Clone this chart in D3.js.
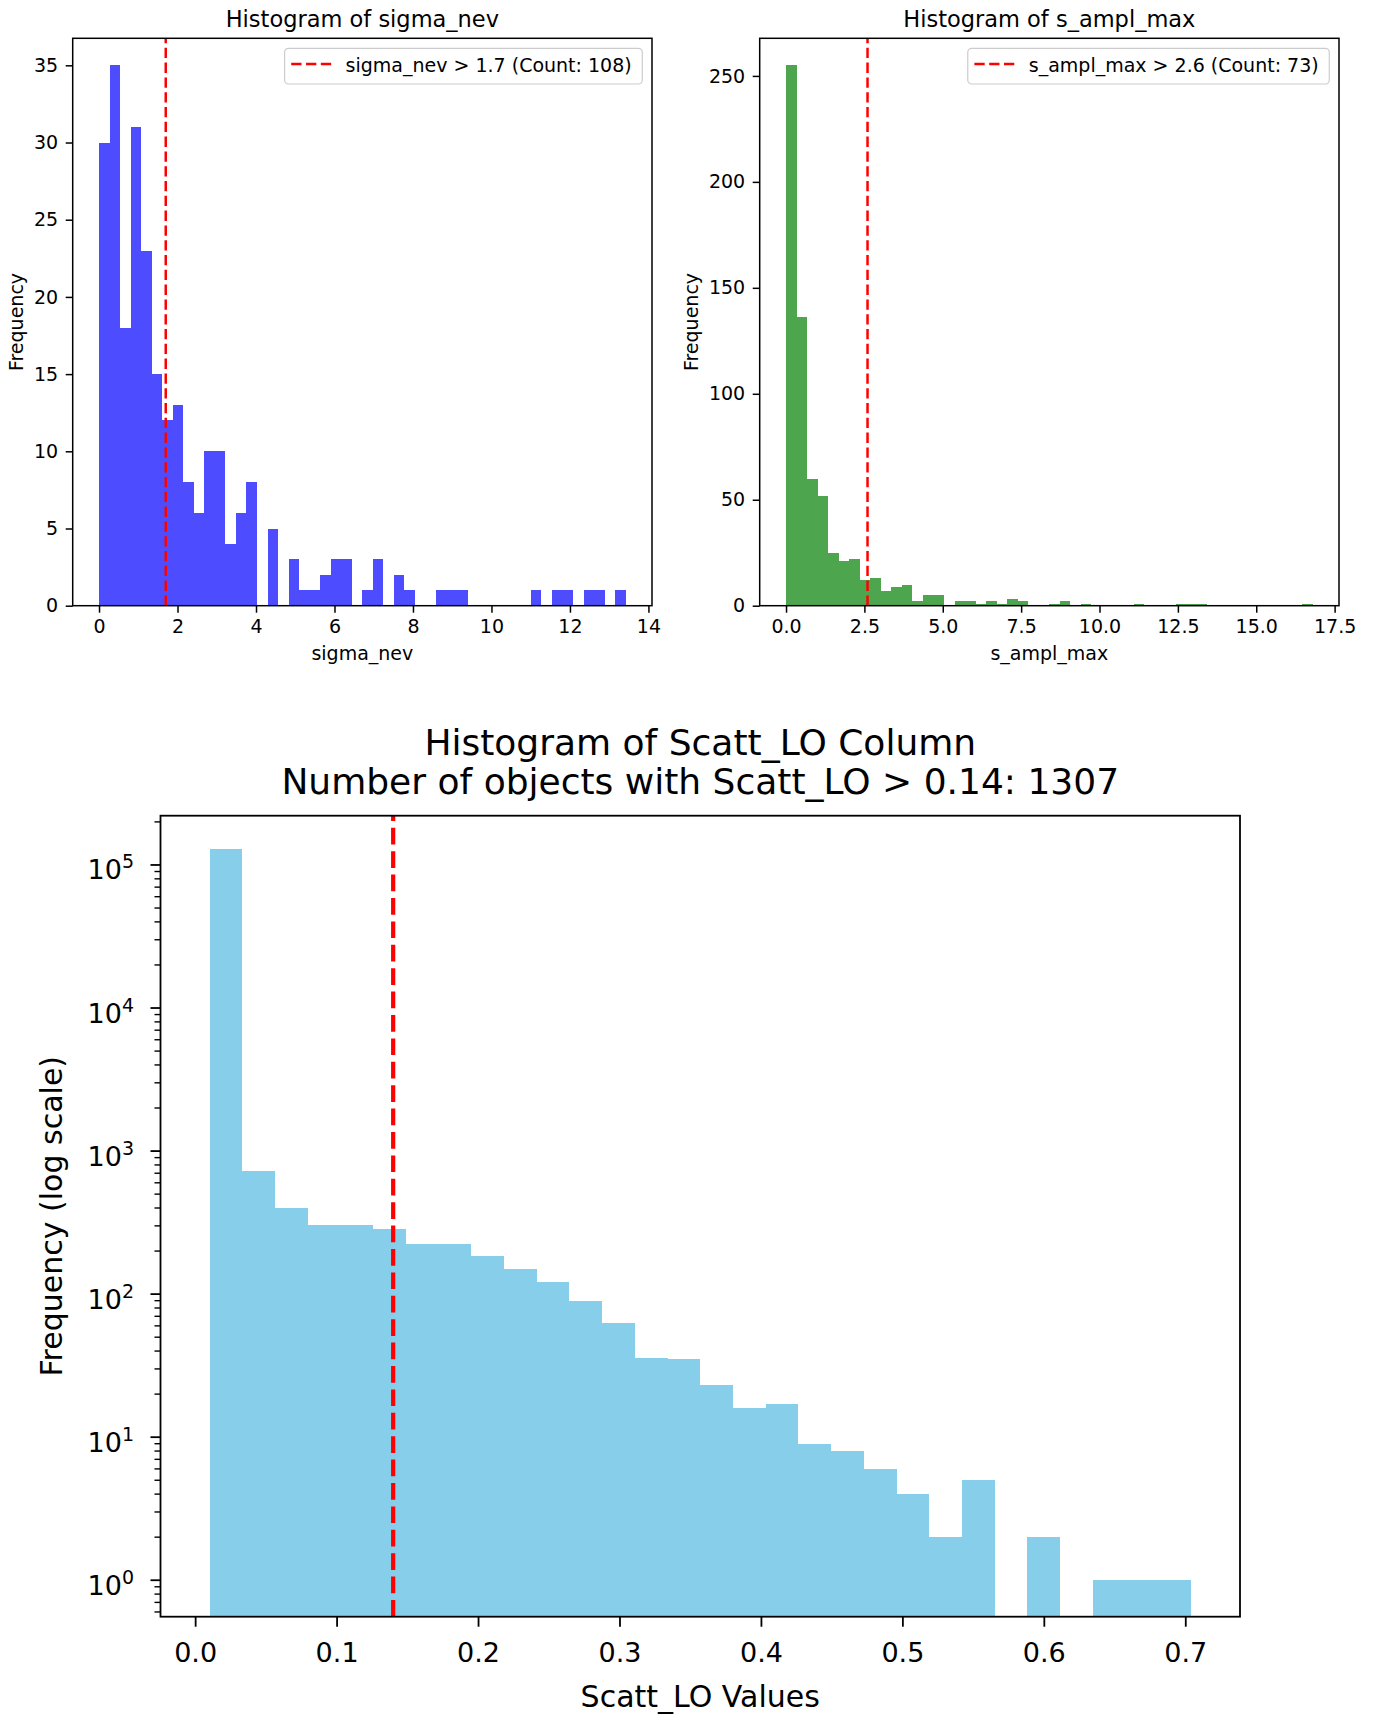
<!DOCTYPE html>
<html>
<head>
<meta charset="utf-8">
<script src="https://cdn.jsdelivr.net/npm/d3@7/dist/d3.min.js"></script>
<style>
body { margin: 0; background: #fff; }
text { font-family: "DejaVu Sans", sans-serif; fill: #000; }
</style>
</head>
<body>
<div id="chart"></div>
<script>
// sigma_nev histogram (50 bins)
var sigmaExtent = [0, 13.42];
var sigmaCounts = [30, 35, 18, 31, 23, 15, 12, 13, 8, 6,
    10, 10, 4, 6, 8, 0, 5, 0, 3, 1,
    1, 2, 3, 3, 0, 1, 3, 0, 2, 1,
    0, 0, 1, 1, 1, 0, 0, 0, 0, 0,
    0, 1, 0, 1, 1, 0, 1, 1, 0, 1];
var sigmaCut = 1.7;
var sigmaXTicks = [0, 2, 4, 6, 8, 10, 12, 14];
var sigmaYTicks = [0, 5, 10, 15, 20, 25, 30, 35];

// s_ampl_max histogram (50 bins)
var amplExtent = [0, 16.8];
var amplCounts = [255, 136, 60, 52, 25, 21, 22, 12, 13, 7,
    9, 10, 2, 5, 5, 0, 2, 2, 1, 2,
    1, 3, 2, 0, 0, 1, 2, 0, 1, 0,
    0, 0, 0, 1, 0, 0, 0, 1, 1, 1,
    0, 0, 0, 0, 0, 0, 0, 0, 0, 1];
var amplCut = 2.6;
var amplXTicks = [0, 2.5, 5, 7.5, 10, 12.5, 15, 17.5];
var amplYTicks = [0, 50, 100, 150, 200, 250];

// Scatt_LO histogram (30 bins, log y)
var scattExtent = [0.0102, 0.704];
var scattCounts = [130000, 730, 400, 305, 305, 284, 223, 223, 186, 151,
    122, 89, 63, 36, 35, 23, 16, 17, 9, 8,
    6, 4, 2, 5, 0, 2, 0, 1, 1, 1];
var scattCut = 0.14;
var scattCutCount = 1307;
var scattXTicks = [0, 0.1, 0.2, 0.3, 0.4, 0.5, 0.6, 0.7];
var scattYExp = [0, 1, 2, 3, 4, 5];
var scattYLimits = [0.556, 221000];

var svgWidth = 1374;
var svgHeight = 1715;

var svg = d3.select("#chart")
    .append("svg")
    .attr("width", svgWidth)
    .attr("height", svgHeight);

function makeBins(extent, counts) {
    var w = (extent[1] - extent[0]) / counts.length;
    return counts.map(function(c, i) {
        return {x0: extent[0] + i * w, x1: extent[0] + (i + 1) * w, count: c};
    });
}

function styleAxis(a, size, width) {
    a.select(".domain").remove();
    a.attr("font-size", size).attr("font-family", "DejaVu Sans");
    a.selectAll("line").attr("stroke", "#000").attr("stroke-width", width);
    a.selectAll("text").attr("fill", "#000");
}

// small linear histograms on top
function smallHist(p) {
    var bins = makeBins(p.extent, p.counts);
    var pad = (p.extent[1] - p.extent[0]) * 0.05;
    var x = d3.scaleLinear()
        .domain([p.extent[0] - pad, p.extent[1] + pad])
        .range([p.left, p.right]);
    var y = d3.scaleLinear()
        .domain([0, d3.max(p.counts) * 1.05])
        .range([p.bottom, p.top]);

    var g = svg.append("g");

    g.selectAll("rect.bar")
        .data(bins.filter(d => d.count > 0))
        .enter()
        .append("rect")
        .attr("class", "bar")
        .attr("x", d => x(d.x0))
        .attr("width", d => x(d.x1) - x(d.x0))
        .attr("y", d => y(d.count))
        .attr("height", d => y(0) - y(d.count))
        .attr("fill", p.color)
        .attr("shape-rendering", "crispEdges");

    // cutoff line
    g.append("line")
        .attr("x1", x(p.cut)).attr("x2", x(p.cut))
        .attr("y1", p.bottom).attr("y2", p.top)
        .attr("stroke", "red")
        .attr("stroke-width", 2.5)
        .attr("stroke-dasharray", "10.3,4.5");

    // frame
    g.append("rect")
        .attr("x", p.left).attr("y", p.top)
        .attr("width", p.right - p.left).attr("height", p.bottom - p.top)
        .attr("fill", "none").attr("stroke", "#000").attr("stroke-width", 1.5);

    g.append("g")
        .attr("transform", `translate(0, ${p.bottom})`)
        .call(d3.axisBottom(x).tickValues(p.xTicks).tickSize(7).tickPadding(6.5).tickFormat(p.xFmt))
        .call(a => styleAxis(a, 19, 1.5));
    g.append("g")
        .attr("transform", `translate(${p.left}, 0)`)
        .call(d3.axisLeft(y).tickValues(p.yTicks).tickSize(7).tickPadding(7.5).tickFormat(d3.format("d")))
        .call(a => styleAxis(a, 19, 1.5));

    // titles and labels
    var cx = (p.left + p.right) / 2;
    g.append("text")
        .attr("x", cx).attr("y", 27)
        .attr("text-anchor", "middle")
        .attr("font-size", 22.5)
        .text(p.title);
    g.append("text")
        .attr("x", cx).attr("y", 660)
        .attr("text-anchor", "middle")
        .attr("font-size", 19)
        .text(p.xLabel);
    g.append("text")
        .attr("transform", `translate(${p.yLabelX}, ${(p.top + p.bottom) / 2}) rotate(-90)`)
        .attr("text-anchor", "middle")
        .attr("font-size", 19)
        .text("Frequency");

    // legend
    var leg = g.append("g");
    var box = leg.append("rect");
    var lt = leg.append("text")
        .attr("font-size", 19)
        .text(p.legend);
    var tw = lt.node().getComputedTextLength();
    var bw = 61 + tw + 10.6;
    var bx = p.right - 9.7 - bw;
    var by = p.top + 10;
    box.attr("x", bx).attr("y", by)
        .attr("width", bw).attr("height", 35.7)
        .attr("rx", 4).attr("ry", 4)
        .attr("fill", "#fff").attr("fill-opacity", 0.8)
        .attr("stroke", "#cccccc").attr("stroke-width", 1.2);
    leg.append("line")
        .attr("x1", bx + 6.6).attr("x2", bx + 46.6)
        .attr("y1", by + 15.7).attr("y2", by + 15.7)
        .attr("stroke", "red").attr("stroke-width", 2.5)
        .attr("stroke-dasharray", "10.3,4.5");
    lt.attr("x", bx + 61).attr("y", by + 23.4);
}

smallHist({
    extent: sigmaExtent, counts: sigmaCounts, cut: sigmaCut,
    xTicks: sigmaXTicks, yTicks: sigmaYTicks, xFmt: d3.format("d"),
    left: 72.7, right: 652, top: 38.3, bottom: 605.7,
    color: "#4d4dff", yLabelX: 22.5,
    title: "Histogram of sigma_nev", xLabel: "sigma_nev",
    legend: `sigma_nev > ${sigmaCut} (Count: 108)`
});

smallHist({
    extent: amplExtent, counts: amplCounts, cut: amplCut,
    xTicks: amplXTicks, yTicks: amplYTicks, xFmt: d3.format(".1f"),
    left: 759.7, right: 1339, top: 38.3, bottom: 605.7,
    color: "#4da64d", yLabelX: 697.5,
    title: "Histogram of s_ampl_max", xLabel: "s_ampl_max",
    legend: `s_ampl_max > ${amplCut} (Count: 73)`
});

// big log histogram
var bL = 160.5, bR = 1240, bT = 815.7, bB = 1616.7;
var scattBins = makeBins(scattExtent, scattCounts);
var sPad = (scattExtent[1] - scattExtent[0]) * 0.05;
var xS = d3.scaleLinear()
    .domain([scattExtent[0] - sPad, scattExtent[1] + sPad])
    .range([bL, bR]);
var yS = d3.scaleLog()
    .domain(scattYLimits)
    .range([bB, bT]);

var bg = svg.append("g");
bg.selectAll("rect.bar")
    .data(scattBins.filter(d => d.count > 0))
    .enter()
    .append("rect")
    .attr("class", "bar")
    .attr("x", d => xS(d.x0))
    .attr("width", d => xS(d.x1) - xS(d.x0))
    .attr("y", d => yS(d.count))
    .attr("height", d => bB - yS(d.count))
    .attr("fill", "#87ceeb")
    .attr("shape-rendering", "crispEdges");

bg.append("line")
    .attr("x1", xS(scattCut)).attr("x2", xS(scattCut))
    .attr("y1", bB).attr("y2", bT)
    .attr("stroke", "red")
    .attr("stroke-width", 4.2)
    .attr("stroke-dasharray", "16.7,6.7");

bg.append("rect")
    .attr("x", bL).attr("y", bT)
    .attr("width", bR - bL).attr("height", bB - bT)
    .attr("fill", "none").attr("stroke", "#000").attr("stroke-width", 1.8);

bg.append("g")
    .attr("transform", `translate(0, ${bB})`)
    .call(d3.axisBottom(xS).tickValues(scattXTicks).tickSize(10).tickPadding(16).tickFormat(d3.format(".1f")))
    .call(a => styleAxis(a, 27, 1.8));

// log y ticks: majors with 10^n labels, minors 2..9
var minorVals = [];
for (var e = -1; e <= 5; e++) {
    for (var k = 2; k <= 9; k++) {
        var v = k * Math.pow(10, e);
        if (v >= scattYLimits[0] && v <= scattYLimits[1]) minorVals.push(v);
    }
}
bg.selectAll("line.minor")
    .data(minorVals)
    .enter()
    .append("line")
    .attr("class", "minor")
    .attr("x1", bL - 6).attr("x2", bL)
    .attr("y1", d => yS(d)).attr("y2", d => yS(d))
    .attr("stroke", "#000").attr("stroke-width", 1.4);
bg.selectAll("line.major")
    .data(scattYExp)
    .enter()
    .append("line")
    .attr("class", "major")
    .attr("x1", bL - 10).attr("x2", bL)
    .attr("y1", d => yS(Math.pow(10, d))).attr("y2", d => yS(Math.pow(10, d)))
    .attr("stroke", "#000").attr("stroke-width", 1.8);
var yl = bg.selectAll("text.ylab")
    .data(scattYExp)
    .enter()
    .append("text")
    .attr("class", "ylab")
    .attr("x", 134)
    .attr("y", d => yS(Math.pow(10, d)) + 14.5)
    .attr("text-anchor", "end")
    .attr("font-size", 27);
yl.append("tspan").text("10");
yl.append("tspan")
    .attr("font-size", 19)
    .attr("dy", -11)
    .text(d => d);

bg.append("text")
    .attr("x", (bL + bR) / 2).attr("y", 755)
    .attr("text-anchor", "middle")
    .attr("font-size", 36)
    .text("Histogram of Scatt_LO Column");
bg.append("text")
    .attr("x", (bL + bR) / 2).attr("y", 794)
    .attr("text-anchor", "middle")
    .attr("font-size", 36)
    .text(`Number of objects with Scatt_LO > ${scattCut}: ${scattCutCount}`);
bg.append("text")
    .attr("x", (bL + bR) / 2).attr("y", 1707)
    .attr("text-anchor", "middle")
    .attr("font-size", 30)
    .text("Scatt_LO Values");
bg.append("text")
    .attr("transform", `translate(62, ${(bT + bB) / 2}) rotate(-90)`)
    .attr("text-anchor", "middle")
    .attr("font-size", 30)
    .text("Frequency (log scale)");
</script>
</body>
</html>
